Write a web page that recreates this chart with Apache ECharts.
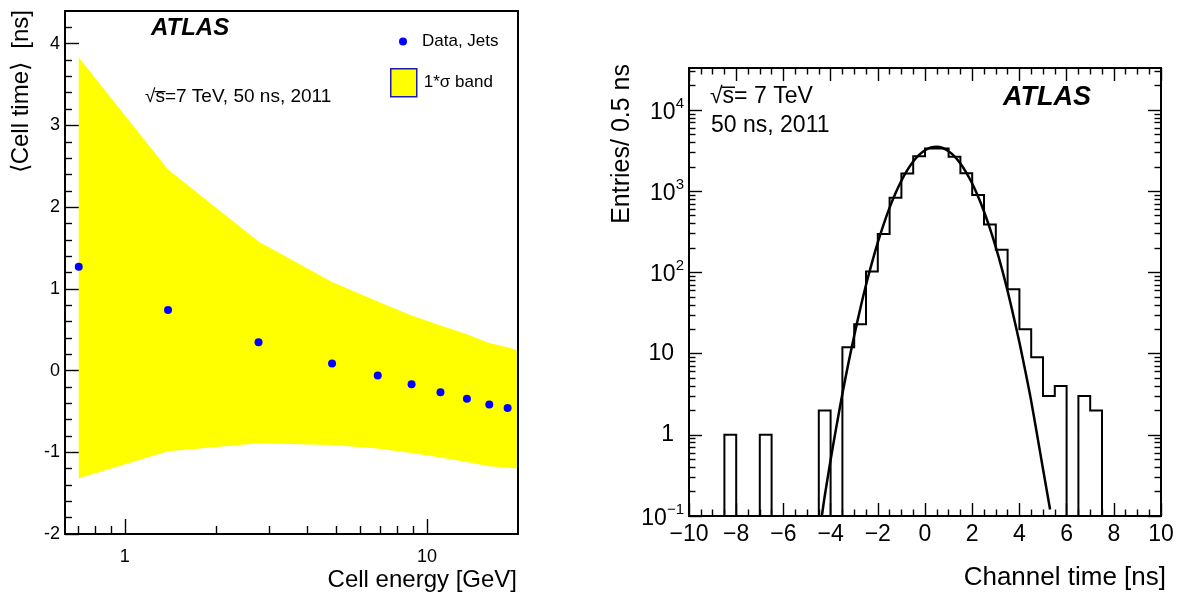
<!DOCTYPE html>
<html>
<head>
<meta charset="utf-8">
<script src="https://cdn.jsdelivr.net/npm/echarts@6/dist/echarts.min.js"></script>
<style>html,body{margin:0;padding:0;background:#fff}#c{width:1179px;height:594px}</style>
</head>
<body>
<div id="c"></div>
<script>
// ---------- Left panel: mean cell time vs cell energy ----------
const cellEnergy   = [0.704, 1.39, 2.77, 4.85, 6.87, 8.89, 11.08, 13.55, 16.07, 18.48];
const meanCellTime = [1.27, 0.74, 0.346, 0.085, -0.061, -0.167, -0.264, -0.346, -0.415, -0.459];
const bandEnergy   = [0.704, 1.39, 2.77, 4.85, 6.87, 8.89, 11.08, 13.55, 16.07, 18.48, 20];
const bandUpper    = [3.83, 2.46, 1.58, 1.085, 0.845, 0.675, 0.55, 0.445, 0.337, 0.285, 0.244];
const bandLower    = [-1.317, -0.988, -0.89, -0.91, -0.955, -1.01, -1.065, -1.118, -1.17, -1.187, -1.2];
const leftXTickLabels = [1, 10];
const leftXMinorTicks = [0.7, 0.8, 0.9, 2, 3, 4, 5, 6, 7, 8, 9];
const leftYTickLabels = [-2, -1, 0, 1, 2, 3, 4];

// ---------- Right panel: channel time histogram ----------
const binWidth = 0.5;
const timeBinLow = [-10,-9.5,-9,-8.5,-8,-7.5,-7,-6.5,-6,-5.5,-5,-4.5,-4,-3.5,-3,-2.5,-2,-1.5,-1,-0.5,
                    0,0.5,1,1.5,2,2.5,3,3.5,4,4.5,5,5.5,6,6.5,7,7.5,8,8.5,9,9.5];
const entries    = [0,0,0,1,0,0,1,0,0,0,0,2,0,12,23,103,298,835,1655,2710,
                    3370,3370,2660,1670,900,390,191,62,20,9,3,4,0,3,2,0,0,0,0,0];
const fitTime    = [-4.37,-4.25,-4,-3.75,-3.5,-3.25,-3,-2.75,-2.5,-2.25,-2,-1.75,-1.5,-1.25,-1,-0.75,-0.5,-0.25,0,0.25,
                    0.5,0.75,1,1.25,1.5,1.75,2,2.25,2.5,2.75,3,3.25,3.5,3.75,4,4.25,4.5,4.75,5,5.3];
const fitEntries = [0.1,0.175,0.49,1.28,3.2,7.5,16.6,35,70,131,234,394,628,946,1349,1820,2322,2803,3200,3455,
                    3529,3409,3115,2693,2202,1702,1246,862,564,349,205,113,59,29,13.8,6.1,2.6,1.0,0.38,0.12];
const rightXTickLabels = [-10,-8,-6,-4,-2,0,2,4,6,8,10];
const rightYTickLabels = [0.1, 1, 10, 100, 1000, 10000];

const FONT = '"Liberation Sans", Arial, Helvetica, sans-serif';
const BLACK = '#000000';

// minor tick positions (axis decoration only)
const leftYMinorTicks = [];
for (let v = -18; v <= 42; v += 2) { if (v % 10 !== 0) leftYMinorTicks.push(v / 10); }
const rightXMinorTicks = [];
for (let v = -19; v <= 19; v += 1) { if (v % 4 !== 0) rightXMinorTicks.push(v / 2); }
const rightYMinorTicks = [];
for (let e = -1; e <= 4; e++) { for (let k = 2; k <= 9; k++) { const v = k * Math.pow(10, e); if (v < 33000) rightYMinorTicks.push(+v.toPrecision(3)); } }

function tickAxis(base, ticks, len, labelCfg) {
  return Object.assign({
    axisLine: { show: false, onZero: false },
    axisTick: { show: true, inside: true, length: len, customValues: ticks, lineStyle: { color: BLACK, width: 1.4 } },
    axisLabel: labelCfg ? labelCfg : { show: false },
    splitLine: { show: false },
    minorTick: { show: false },
    minorSplitLine: { show: false }
  }, base);
}

const LXMIN = 0.634, LXMAX = 20, LYMIN = -2, LYMAX = 4.4;
const RXMIN = -10, RXMAX = 10, RYMIN = 0.1, RYMAX = 33000;

const xAxes = [
  tickAxis({ gridIndex: 0, type: 'log', min: LXMIN, max: LXMAX, position: 'bottom' }, leftXTickLabels, 15,
    { show: true, customValues: leftXTickLabels, margin: 14, fontSize: 18, fontFamily: FONT, color: BLACK, hideOverlap: false }),
  tickAxis({ gridIndex: 0, type: 'log', min: LXMIN, max: LXMAX, position: 'bottom' }, leftXMinorTicks, 8),
  tickAxis({ gridIndex: 1, type: 'value', min: RXMIN, max: RXMAX, position: 'bottom' }, rightXTickLabels, 13,
    { show: true, customValues: rightXTickLabels, margin: 7, fontSize: 23, fontFamily: FONT, color: BLACK, hideOverlap: false,
      formatter: v => (v < 0 ? '\u2212' + Math.abs(v) : String(v)) }),
  tickAxis({ gridIndex: 1, type: 'value', min: RXMIN, max: RXMAX, position: 'bottom' }, rightXMinorTicks, 6.5),
  tickAxis({ gridIndex: 1, type: 'value', min: RXMIN, max: RXMAX, position: 'top' }, rightXTickLabels, 13),
  tickAxis({ gridIndex: 1, type: 'value', min: RXMIN, max: RXMAX, position: 'top' }, rightXMinorTicks, 6.5)
];

const yAxes = [
  tickAxis({ gridIndex: 0, type: 'value', min: LYMIN, max: LYMAX, position: 'left' }, leftYTickLabels, 14,
    { show: true, customValues: leftYTickLabels, margin: 5, fontSize: 18, fontFamily: FONT, color: BLACK, hideOverlap: false }),
  tickAxis({ gridIndex: 0, type: 'value', min: LYMIN, max: LYMAX, position: 'left' }, leftYMinorTicks, 7),
  tickAxis({ gridIndex: 1, type: 'log', min: RYMIN, max: RYMAX, position: 'left' }, rightYTickLabels, 13,
    { show: true, customValues: rightYTickLabels, margin: 5, hideOverlap: false,
      formatter: v => {
        const e = Math.round(Math.log10(v));
        if (e === 0) return '{p|1}';
        if (e === 1) return '{p|10}';
        return '{b|10}{s|' + (e < 0 ? '\u2212' : '') + Math.abs(e) + '}';
      },
      rich: {
        p: { fontSize: 23, fontFamily: FONT, color: BLACK, padding: [0, 10, 0, 0] },
        b: { fontSize: 23, fontFamily: FONT, color: BLACK, padding: [5, 0, 0, 0] },
        s: { fontSize: 15, fontFamily: FONT, color: BLACK, verticalAlign: 'top' }
      } }),
  tickAxis({ gridIndex: 1, type: 'log', min: RYMIN, max: RYMAX, position: 'left' }, rightYMinorTicks, 6.5),
  tickAxis({ gridIndex: 1, type: 'log', min: RYMIN, max: RYMAX, position: 'right' }, rightYTickLabels, 13),
  tickAxis({ gridIndex: 1, type: 'log', min: RYMIN, max: RYMAX, position: 'right' }, rightYMinorTicks, 6.5)
];

const chart = echarts.init(document.getElementById('c'), null, { renderer: 'canvas' });

const option = {
  animation: false,
  backgroundColor: '#ffffff',
  textStyle: { fontFamily: FONT },
  grid: [
    { left: 65, top: 11, width: 453, height: 523, show: true, borderColor: BLACK, borderWidth: 2,
      backgroundColor: 'transparent', z: 10, containLabel: false, outerBoundsMode: 'none' },
    { left: 689, top: 68, width: 472, height: 448, show: true, borderColor: BLACK, borderWidth: 2,
      backgroundColor: 'transparent', z: 10, containLabel: false, outerBoundsMode: 'none' }
  ],
  xAxis: xAxes,
  yAxis: yAxes,
  legend: [
    { data: [{ name: 'Data, Jets', icon: 'circle' }], left: 399, top: 33, orient: 'vertical',
      itemWidth: 8, itemHeight: 8, padding: 0, selectedMode: false,
      textStyle: { fontSize: 17, fontFamily: FONT, color: BLACK, padding: [0, 0, 0, 10] } },
    { data: [{ name: '1*\u03c3 band', icon: 'rect',
               itemStyle: { color: '#ffff00', borderColor: '#1a1ab4', borderWidth: 1.5 } }],
      left: 390, top: 68, orient: 'vertical', itemWidth: 26, itemHeight: 28, padding: 0, selectedMode: false,
      textStyle: { fontSize: 17, fontFamily: FONT, color: BLACK, padding: [0, 0, 0, 2] } }
  ],
  series: [
    {
      type: 'custom', name: '1*\u03c3 band', xAxisIndex: 0, yAxisIndex: 0, silent: true, z: 1,
      itemStyle: { color: '#ffff00' },
      data: [[bandEnergy[0], bandLower[0]]],
      renderItem: function (params, api) {
        const pts = [];
        for (let i = 0; i < bandEnergy.length; i++) pts.push(api.coord([bandEnergy[i], bandUpper[i]]));
        for (let i = bandEnergy.length - 1; i >= 0; i--) pts.push(api.coord([bandEnergy[i], bandLower[i]]));
        return { type: 'polygon', shape: { points: pts }, style: { fill: '#ffff00', stroke: null } };
      }
    },
    {
      type: 'scatter', name: 'Data, Jets', xAxisIndex: 0, yAxisIndex: 0, z: 3,
      symbol: 'circle', symbolSize: 8, itemStyle: { color: '#0000ff', opacity: 1 },
      data: cellEnergy.map((e, i) => [e, meanCellTime[i]])
    },
    {
      type: 'custom', name: 'Entries', xAxisIndex: 2, yAxisIndex: 2, silent: true, z: 2,
      data: [[timeBinLow[0], 1]],
      renderItem: function (params, api) {
        const cs = params.coordSys;
        const base = cs.y + cs.height;
        const yOf = v => (v > 0 ? api.coord([0, v])[1] : base);
        const xOf = t => api.coord([t, 1])[0];
        const pts = [[xOf(timeBinLow[0]), base]];
        for (let i = 0; i < timeBinLow.length; i++) {
          const y = yOf(entries[i]);
          pts.push([xOf(timeBinLow[i]), y]);
          pts.push([xOf(timeBinLow[i] + binWidth), y]);
        }
        pts.push([xOf(timeBinLow[timeBinLow.length - 1] + binWidth), base]);
        return { type: 'polyline', shape: { points: pts },
                 style: { fill: null, stroke: BLACK, lineWidth: 2, lineJoin: 'miter' } };
      }
    },
    {
      type: 'line', name: 'Fit', xAxisIndex: 2, yAxisIndex: 2, z: 3,
      showSymbol: false, symbol: 'none', smooth: 0.3, clip: true,
      lineStyle: { color: BLACK, width: 2.5 },
      data: fitTime.map((t, i) => [t, fitEntries[i]])
    }
  ],
  graphic: [
    { type: 'text', x: 151, y: 28, style: { text: 'ATLAS', fontSize: 24, fontWeight: 'bold', fontStyle: 'italic', fontFamily: FONT, fill: BLACK, verticalAlign: 'middle' } },
    { type: 'text', x: 145, y: 97, style: { text: '\u221as\u0305=7 TeV, 50 ns, 2011', fontSize: 19, fontFamily: FONT, fill: BLACK, verticalAlign: 'middle' } },
    { type: 'text', x: 517, y: 580, style: { text: 'Cell energy [GeV]', fontSize: 24, fontFamily: FONT, fill: BLACK, align: 'right', verticalAlign: 'middle' } },
    { type: 'text', x: 21, y: 10, rotation: Math.PI / 2, style: { text: '\u27e8Cell time\u27e9  [ns]', fontSize: 24, fontFamily: FONT, fill: BLACK, align: 'right', verticalAlign: 'middle' } },
    { type: 'text', x: 710, y: 97, style: { text: '\u221as\u0305= 7 TeV', fontSize: 23, fontFamily: FONT, fill: BLACK, verticalAlign: 'middle' } },
    { type: 'text', x: 711, y: 126, style: { text: '50 ns, 2011', fontSize: 23, fontFamily: FONT, fill: BLACK, verticalAlign: 'middle' } },
    { type: 'text', x: 1003, y: 98, style: { text: 'ATLAS', fontSize: 27, fontWeight: 'bold', fontStyle: 'italic', fontFamily: FONT, fill: BLACK, verticalAlign: 'middle' } },
    { type: 'text', x: 1166, y: 578, style: { text: 'Channel time [ns]', fontSize: 26, fontFamily: FONT, fill: BLACK, align: 'right', verticalAlign: 'middle' } },
    { type: 'text', x: 622, y: 64, rotation: Math.PI / 2, style: { text: 'Entries/ 0.5 ns', fontSize: 25, fontFamily: FONT, fill: BLACK, align: 'right', verticalAlign: 'middle' } }
  ]
};

chart.setOption(option);
</script>
</body>
</html>
